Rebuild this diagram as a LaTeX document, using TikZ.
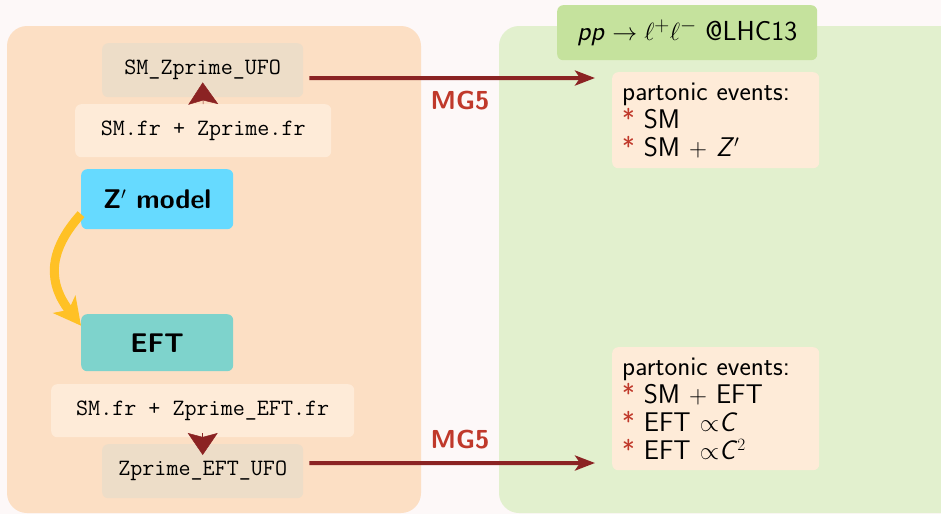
\documentclass[tikz,border=0pt]{standalone}
\usepackage{fontspec}
\usetikzlibrary{arrows.meta}
\definecolor{bgc}{HTML}{FDF8F8}
\definecolor{leftp}{HTML}{FCDFC4}
\definecolor{rightp}{HTML}{E2F0CE}
\definecolor{titlec}{HTML}{C5E29D}
\definecolor{frc}{HTML}{FEEBD8}
\definecolor{ufoc}{HTML}{EDDDC8}
\definecolor{zpc}{HTML}{66DAFF}
\definecolor{eftc}{HTML}{7ED3CC}
\definecolor{arrc}{HTML}{8B2323}
\definecolor{mgc}{HTML}{C0392B}
\definecolor{yelc}{HTML}{FFC125}
\newcommand{\rast}{{\color{mgc}*}}
\begin{document}
\begin{tikzpicture}[x=1pt,y=1pt,
  panel/.style={rounded corners=20pt},
  box/.style={rounded corners=6pt, inner sep=0pt, anchor=north west},
  ttbox/.style={box, font=\fontsize{23.4}{28}\selectfont\ttfamily},
  sfbox/.style={box, font=\fontsize{27}{32}\selectfont\sffamily\bfseries},
  evbox/.style={box, fill=frc, font=\fontsize{27}{28}\selectfont\sffamily, align=left, text width=187pt, inner xsep=10pt, inner ysep=6pt, anchor=north west},
  mgarrow/.style={draw=arrc, line width=4pt, -{Stealth[length=20pt,width=15pt,inset=5pt]}},
  mglabel/.style={font=\fontsize{26}{30}\selectfont\sffamily\bfseries, text=mgc},
  tri/.style={arrc, line width=0.5pt, -{Stealth[length=22pt,width=30pt,inset=4pt]}},
  ]
\fill[bgc] (0,0) rectangle (941,-514);
\useasboundingbox (0,0) rectangle (941,-514);
% panels
\fill[leftp, panel] (7,-26) rectangle (421,-513);
\fill[rightp, panel] (499,-26) rectangle (980,-513);
% title
\node[box, fill=titlec, minimum width=260pt, minimum height=55pt, font=\fontsize{27.5}{32}\selectfont\sffamily] (title) at (557,-5) {\textit{pp}\;$\rightarrow \ell^+\ell^-$ @LHC13};
% left nodes
\node[ttbox, fill=ufoc, minimum width=201pt, minimum height=54pt] (ufo1) at (102,-43) {SM\_Zprime\_UFO};
\node[ttbox, fill=frc, minimum width=256pt, minimum height=53pt] (fr1) at (75,-104) {SM.fr + Zprime.fr};
\node[sfbox, fill=zpc, minimum width=152pt, minimum height=60pt] (zp) at (81,-169) {Z$'$ model};
\node[sfbox, fill=eftc, minimum width=152pt, minimum height=57pt] (eft) at (81,-314) {EFT};
\node[ttbox, fill=frc, minimum width=303pt, minimum height=53pt] (fr2) at (51,-384) {SM.fr + Zprime\_EFT.fr};
\node[ttbox, fill=ufoc, minimum width=201pt, minimum height=54pt] (ufo2) at (102,-444) {Zprime\_EFT\_UFO};
% small arrows
\draw[tri] (fr1.north) -- ([yshift=15pt]ufo1.south);
\draw[tri] ([yshift=11pt]ufo2.north) -- ([yshift=-11pt]ufo2.north);
% yellow arrow
\draw[yelc, line width=9pt, -{Stealth[length=27pt,width=28pt,inset=7pt]}] ([yshift=-15pt]zp.west) to[out=228,in=128,looseness=1.2] ([yshift=17pt]eft.west);
% event boxes
\node[evbox, minimum height=96pt] (ev1) at (612,-72) {partonic events:\\\rast{} SM\\\rast{} SM $+$ \textit{Z}$'$};
\node[evbox, minimum height=123pt] (ev2) at (612,-347) {partonic events:\\\rast{} SM $+$ EFT\\\rast{} EFT $\propto$\textit{C}\\\rast{} EFT $\propto$\textit{C}$^2$};
% MG5 arrows
\coordinate (t1) at (595,-78);
\coordinate (t2) at (595,-463);
\draw[mgarrow] ([xshift=6pt,yshift=-8pt]ufo1.east) -- (t1);
\draw[mgarrow] ([xshift=6pt,yshift=8pt]ufo2.east) -- (t2);
\node[mglabel] (mg1) at (460,-101) {MG5};
\node[mglabel] (mg2) at (460,-440) {MG5};
\end{tikzpicture}
\end{document}
